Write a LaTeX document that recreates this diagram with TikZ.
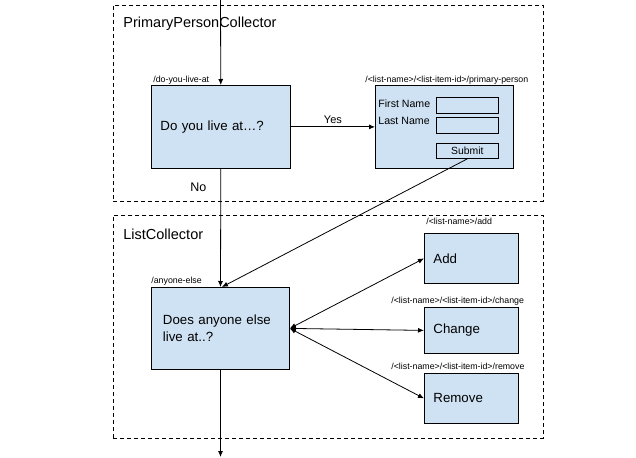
\documentclass[tikz,border=0pt]{standalone}
\usepackage{fontspec}
\setmainfont{Liberation Sans}
\usetikzlibrary{arrows.meta,positioning,calc}
\definecolor{pageblue}{HTML}{CFE2F3}

\begin{document}
\begin{tikzpicture}[
  x=1pt,y=1pt,line width=0.8pt,
  every node/.style={inner sep=0pt},
  group/.style={draw,dash pattern=on 4pt off 3pt,anchor=north west,minimum width=430pt},
  grouptitle/.style={font=\fontsize{14.5}{17}\selectfont,anchor=west},
  page/.style={draw,fill=pageblue,anchor=north west,align=left,font=\fontsize{13.3}{16.5}\selectfont},
  urlpath/.style={font=\fontsize{8.8}{10}\selectfont,anchor=base west},
  field/.style={draw,minimum width=62pt,minimum height=16pt,anchor=north west},
  formtext/.style={font=\fontsize{10.6}{12}\selectfont,anchor=west},
  arrow/.style={-{Latex[length=6pt,width=5pt]}},
  twoway/.style={{Latex[length=6pt,width=5pt]}-{Latex[length=6pt,width=5pt]}}
]
\useasboundingbox (0,0) rectangle (636,-457);

% collector frames
\node[group,minimum height=196pt] (ppc) at (113,-5) {};
\node[grouptitle] (ppctitle) at (123,-24) {PrimaryPersonCollector};
\node[group,minimum height=223pt] (lc) at (113,-215) {};
\node[grouptitle] (lctitle) at (123,-234) {ListCollector};

% pages
\node[page,minimum width=139pt,minimum height=83pt,text width=121pt,inner xsep=9pt] (live) at (151,-85) {Do you live at…?};
\node[page,minimum width=138pt,minimum height=83pt] (primary) at (375,-85) {};
\node[page,minimum width=138pt,minimum height=82pt,text width=115pt,inner xsep=11.5pt] (anyone) at (151,-287) {Does anyone else\\live at..?};
\node[page,minimum width=94pt,minimum height=50pt,text width=76pt,inner xsep=9pt] (add) at (424,-233) {Add};
\node[page,minimum width=94pt,minimum height=46pt,text width=76pt,inner xsep=9pt] (chg) at (424,-307) {Change};
\node[page,minimum width=94pt,minimum height=50pt,text width=76pt,inner xsep=9pt] (rem) at (424,-373) {Remove};

% url paths
\node[urlpath] (livepath) at ($(live.north west)+(2,2)$) {/do-you-live-at};
\node[urlpath] (primarypath) at ($(primary.north west)+(-10,2)$) {/<list-name>/<list-item-id>/primary-person};
\node[urlpath] (anyonepath) at ($(anyone.north west)+(0,4)$) {/anyone-else};
\node[urlpath] (addpath) at ($(add.north west)+(2,8.5)$) {/<list-name>/add};
\node[urlpath] (chgpath) at ($(chg.north west)+(-33,3.5)$) {/<list-name>/<list-item-id>/change};
\node[urlpath] (rempath) at ($(rem.north west)+(-33,3.5)$) {/<list-name>/<list-item-id>/remove};

% form
\node[formtext] (firstname) at (378,-103.3) {First Name};
\node[formtext] (lastname) at (378,-120.7) {Last Name};
\node[field] (firstfield) at (436,-97) {};
\node[field] (lastfield) at (436,-117) {};
\node[field,minimum height=15pt,font=\fontsize{10.4}{12}\selectfont] (submit) at (436,-143) {Submit};

% flow
\coordinate (start) at (220.5,0);
\coordinate (finish) at (220.5,-457);
\draw[arrow] (start) -- (live);
\draw[arrow] (live) -- node[above=3pt,font=\fontsize{11}{13}\selectfont] (yes) {Yes} (primary);
\draw[arrow] (live) -- node[pos=0.16,left=14pt,font=\fontsize{12.5}{15}\selectfont] (no) {No} (anyone);
\draw[arrow] (submit.south) -- ([xshift=1.5pt]anyone.north);
\foreach \target in {add,chg,rem}
  \draw[twoway] (anyone.east) -- (\target.west);
\draw[arrow] (anyone) -- (finish);
\end{tikzpicture}
\end{document}
